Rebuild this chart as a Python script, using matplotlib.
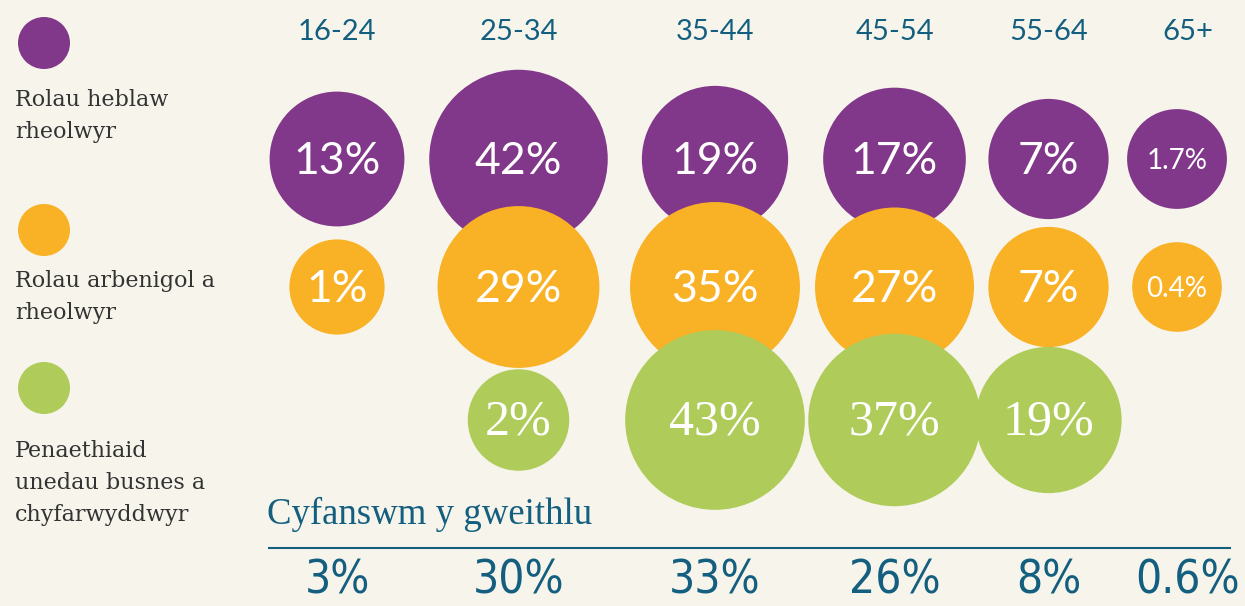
import matplotlib.pyplot as plt
from matplotlib import font_manager
from matplotlib.patches import Circle

# data
age_groups = ['16-24', '25-34', '35-44', '45-54', '55-64', '65+']
non_managerial = [13, 42, 19, 17, 7, 1.7]
specialist_managerial = [1, 29, 35, 27, 7, 0.4]
heads_directors = [None, 2, 43, 37, 19, None]
total_workforce = [3, 30, 33, 26, 8, 0.6]
series_names = ['Rolau heblaw\nrheolwyr',
                'Rolau arbenigol a\nrheolwyr',
                'Penaethiaid\nunedau busnes a\nchyfarwyddwyr']
total_title = 'Cyfanswm y gweithlu'

# colours
purple = '#82388a'
orange = '#f9b126'
green = '#afcc5a'
teal = '#145f7f'
bg = '#f7f5eb'

# layout (pixels)
col_x = [337, 518.5, 715, 894.5, 1048.5, 1177]
head_x = [337, 518.5, 715, 894.5, 1048.5, 1188]
row_y = [159, 287, 420]
legend_y = [43, 230, 388]
legend_text_y = [89, 270, 440]

# look for a narrow font for the totals row
narrow = None
for f in font_manager.fontManager.ttflist:
    if f.stretch in ('condensed', 'semi-condensed', 'extra-condensed') or \
            'Narrow' in f.name or 'Condensed' in f.name:
        if f.style == 'normal' and f.weight in (400, 'normal', 'regular'):
            narrow = f.fname
            break
narrow_prop = font_manager.FontProperties(fname=narrow) if narrow else \
    font_manager.FontProperties(family='DejaVu Sans')


def radius(v):
    # bubble size scale: grows with sqrt of the share, with a minimum size
    return 40 + 7.6 * v ** 0.5


fig = plt.figure(figsize=(12.45, 6.06), dpi=100, facecolor=bg)
ax = fig.add_axes([0, 0, 1, 1])
ax.set_xlim(0, 1245)
ax.set_ylim(606, 0)
ax.axis('off')

rows = [non_managerial, specialist_managerial, heads_directors]
colors = [purple, orange, green]
fonts = ['Lato', 'Lato', 'Liberation Serif']

for i, (vals, c) in enumerate(zip(rows, colors)):
    for x, v in zip(col_x, vals):
        if v is None:
            continue
        ax.add_patch(Circle((x, row_y[i]), radius(v), color=c, lw=0, zorder=i + 1))
    for x, v in zip(col_x, vals):
        if v is None:
            continue
        lab = f'{v:g}%'
        fs = 32 if len(lab) <= 3 else 20
        if i == 2:
            fs = 36
        ax.text(x, row_y[i] + 2, lab, color='white', fontsize=fs,
                family=fonts[i], ha='center', va='center', zorder=10)

    # legend
    ax.add_patch(Circle((44, legend_y[i]), 26, color=c, lw=0))
    ax.text(15, legend_text_y[i], series_names[i], color='#333333',
            fontsize=16, family='DejaVu Serif', ha='left', va='top',
            linespacing=1.6)

# age headers
for x, lab in zip(head_x, age_groups):
    ax.text(x, 40, lab, color=teal, fontsize=21, family='Lato',
            ha='center', va='baseline')

# total workforce
ax.text(267, 524, total_title, color=teal, fontsize=26.5,
        family='Liberation Serif', ha='left', va='baseline')
ax.plot([269, 1230], [548, 548], color=teal, lw=1.5)
for x, v in zip(head_x, total_workforce):
    ax.text(x, 604, f'{v:g}%', color=teal, fontsize=33,
            fontproperties=narrow_prop, ha='center', va='bottom')

fig.savefig('out.png', dpi=100, facecolor=bg)
